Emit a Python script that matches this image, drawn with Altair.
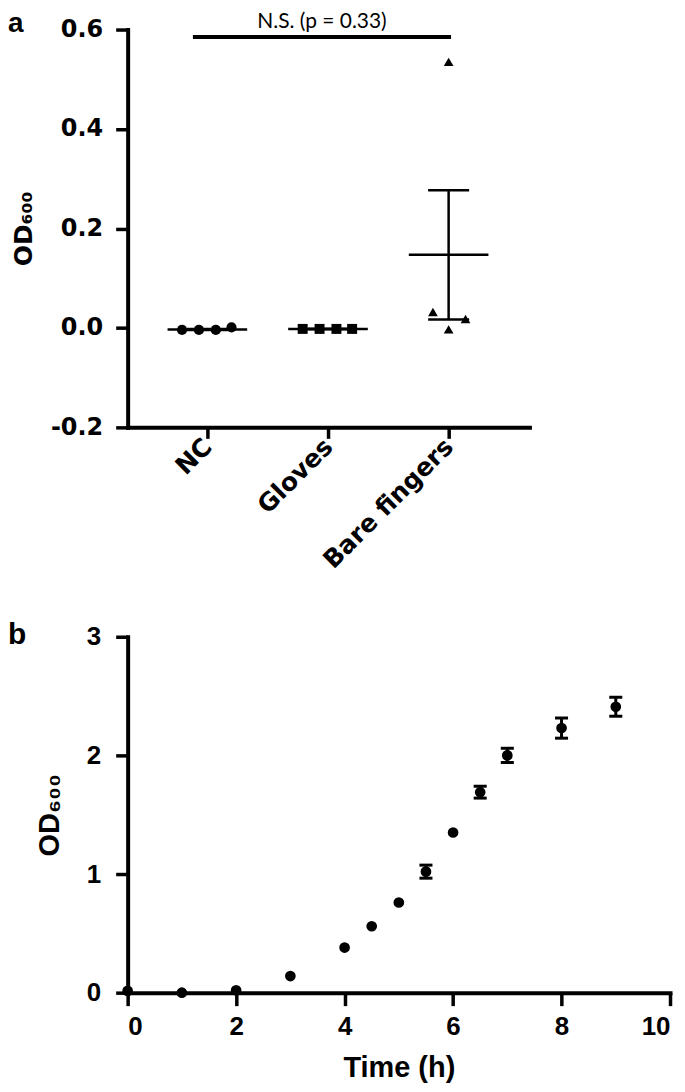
import json
import altair as alt
import pandas as pd

# ---------------- Panel a data ----------------
groups = ["NC", "Gloves", "Bare fingers"]
group_index = [1, 2, 3]
nc_values = [-0.004, -0.004, -0.004, 0.001]
gloves_values = [-0.002, -0.002, -0.002, -0.002]
bare_values = [0.032, -0.003, 0.018, 0.535]
# horizontal scatter of the replicate symbols (in category units)
nc_spread = [-0.21, -0.07, 0.07, 0.20]
gloves_spread = [-0.21, -0.07, 0.07, 0.20]
bare_spread = [-0.13, 0.00, 0.14, 0.00]
group_means = [-0.003, -0.002, 0.147]
group_sems = [0.001, 0.0005, 0.130]
sig_from_to = [0.88, 3.02]
sig_level = 0.585
sig_label = "N.S. (p = 0.33)"

# ---------------- Panel b data ----------------
time_h = [0, 1, 2, 3, 4, 4.5, 5, 5.5, 6, 6.5, 7, 8, 9]
od600 = [0.015, 0.0, 0.02, 0.14, 0.38, 0.56, 0.76, 1.02, 1.35, 1.69, 2.00, 2.23, 2.41]
od600_sd = [0.005, 0.005, 0.005, 0.01, 0.01, 0.015, 0.015, 0.055, 0.02, 0.05, 0.06, 0.085, 0.08]
x_ticks_b = [0, 2, 4, 6, 8, 10]
y_ticks_b = [0, 1, 2, 3]
y_ticks_a = [-0.2, 0.0, 0.2, 0.4, 0.6]

# ---------------- tables ----------------
rows = []
for g, gi, vals, spread in [
    (groups[0], group_index[0], nc_values, nc_spread),
    (groups[1], group_index[1], gloves_values, gloves_spread),
    (groups[2], group_index[2], bare_values, bare_spread),
]:
    for v, s in zip(vals, spread):
        rows.append({"group": g, "xpos": gi + s, "value": v})
pts_a = pd.DataFrame(rows)
summ_a = pd.DataFrame({"group": groups, "pos": group_index,
                       "mean": group_means, "sem": group_sems})
sig_df = pd.DataFrame({"x1": [sig_from_to[0]], "x2": [sig_from_to[1]],
                       "y": [sig_level], "label": [sig_label]})
df_b = pd.DataFrame({"t": time_h, "od": od600, "sd": od600_sd})

FA = "DejaVu Sans"
FB = "Liberation Sans"

xdom_a = [0.339, 3.67]
label_expr_x = json.dumps(groups) + "[datum.value - 1]"
x_a = alt.X("xpos:Q", scale=alt.Scale(domain=xdom_a, nice=False, zero=False),
            axis=alt.Axis(values=group_index, labelExpr=label_expr_x, title=None,
                          labelAngle=-45, labelAlign="right", labelBaseline="middle",
                          labelOverlap=False,
                          labelFont=FA, labelFontWeight="bold", labelFontSize=25,
                          labelColor="black", labelPadding=4,
                          domainColor="black", domainWidth=4, domainCap="square",
                          tickColor="black", tickWidth=3.5, tickSize=11, grid=False))
y_a = alt.Y("value:Q", scale=alt.Scale(domain=[-0.2, 0.6], nice=False, zero=False),
            axis=alt.Axis(values=y_ticks_a, title="OD₆₀₀",
                          labelExpr="datum.value < 0 ? '-' + format(-datum.value, '.1f') : format(datum.value, '.1f')",
                          labelFont=FA, labelFontWeight="bold", labelFontSize=24,
                          labelColor="black", labelPadding=13,
                          titleFont=FA, titleFontWeight="bold", titleFontSize=25,
                          titleColor="black", titlePadding=14,
                          domainColor="black", domainWidth=4, domainCap="square",
                          tickColor="black", tickWidth=3.5, tickSize=12, grid=False))

base_sum = alt.Chart(summ_a)

points_a = alt.Chart(pts_a).mark_point(filled=True, opacity=1, color="black").encode(
    x=x_a, y=y_a,
    shape=alt.Shape("group:N", scale=alt.Scale(domain=groups, range=["circle", "square", "triangle-up"]),
                    legend=None),
    size=alt.Size("group:N", scale=alt.Scale(domain=groups, range=[105, 95, 130]), legend=None),
)
mean_lines = base_sum.transform_calculate(
    lo="datum.pos - 0.33", hi="datum.pos + 0.33"
).mark_rule(color="black", strokeWidth=2.5).encode(
    x="lo:Q", x2="hi:Q", y="mean:Q")
err_v = base_sum.transform_calculate(
    ylo="datum.mean - datum.sem", yhi="datum.mean + datum.sem"
).mark_rule(color="black", strokeWidth=2.5).encode(
    x="pos:Q", y="ylo:Q", y2="yhi:Q")
cap_hi = base_sum.transform_calculate(
    lo="datum.pos - 0.17", hi="datum.pos + 0.17", yv="datum.mean + datum.sem"
).mark_rule(color="black", strokeWidth=2.5).encode(x="lo:Q", x2="hi:Q", y="yv:Q")
cap_lo = base_sum.transform_calculate(
    lo="datum.pos - 0.17", hi="datum.pos + 0.17", yv="datum.mean - datum.sem"
).mark_rule(color="black", strokeWidth=2.5).encode(x="lo:Q", x2="hi:Q", y="yv:Q")
sig_bar = alt.Chart(sig_df).mark_rule(color="black", strokeWidth=4).encode(
    x="x1:Q", x2="x2:Q", y="y:Q")
sig_text = alt.Chart(sig_df).transform_calculate(
    xm="(datum.x1 + datum.x2) / 2"
).mark_text(font="Lato", fontSize=21, color="black", baseline="alphabetic", dy=-9).encode(
    x="xm:Q", y="y:Q", text="label:N")
letter_a = alt.Chart(sig_df).mark_text(text="a", font=FB, fontWeight="bold", fontSize=28,
                                       color="black", align="left", baseline="alphabetic").encode(
    x=alt.value(-120), y=alt.value(2))

panel_a = alt.layer(mean_lines, err_v, cap_hi, cap_lo, sig_bar, sig_text, points_a, letter_a).properties(
    width=403, height=399)

# ---------------- Panel b ----------------
x_b = alt.X("t:Q", scale=alt.Scale(domain=[0, 10], nice=False),
            axis=alt.Axis(values=x_ticks_b, title="Time (h)", format="d",
                          labelFont=FB, labelFontWeight="bold", labelFontSize=26,
                          labelColor="black", labelPadding=8,
                          titleFont=FB, titleFontWeight="bold", titleFontSize=29,
                          titleColor="black", titlePadding=14,
                          domainColor="black", domainWidth=4, domainCap="square",
                          tickColor="black", tickWidth=3.5, tickSize=13, grid=False))
y_b = alt.Y("od:Q", scale=alt.Scale(domain=[0, 3], nice=False),
            axis=alt.Axis(values=y_ticks_b, title="OD₆₀₀", format="d",
                          labelFont=FB, labelFontWeight="bold", labelFontSize=26,
                          labelColor="black", labelPadding=15,
                          titleFont=FB, titleFontWeight="bold", titleFontSize=29,
                          titleColor="black", titlePadding=22,
                          domainColor="black", domainWidth=4, domainCap="square",
                          tickColor="black", tickWidth=3.5, tickSize=12, grid=False))

base_b = alt.Chart(df_b)
pts_b = base_b.mark_circle(color="black", opacity=1, size=115).encode(x=x_b, y=y_b)
bars_b = base_b.transform_filter("datum.sd > 0.04").transform_calculate(
    lo="datum.od - datum.sd", hi="datum.od + datum.sd")
err_b = bars_b.mark_rule(color="black", strokeWidth=3).encode(x="t:Q", y="lo:Q", y2="hi:Q")
caps_b_hi = bars_b.transform_calculate(a="datum.t - 0.12", b="datum.t + 0.12").mark_rule(
    color="black", strokeWidth=3).encode(x="a:Q", x2="b:Q", y="hi:Q")
caps_b_lo = bars_b.transform_calculate(a="datum.t - 0.12", b="datum.t + 0.12").mark_rule(
    color="black", strokeWidth=3).encode(x="a:Q", x2="b:Q", y="lo:Q")
letter_b = alt.Chart(sig_df).mark_text(text="b", font=FB, fontWeight="bold", fontSize=30,
                                       color="black", align="left", baseline="alphabetic").encode(
    x=alt.value(-120), y=alt.value(7))

panel_b = alt.layer(err_b, caps_b_hi, caps_b_lo, pts_b, letter_b).properties(width=544, height=357)

chart = alt.vconcat(panel_a, panel_b, spacing=46).properties(
    padding={"left": 0, "top": 0, "right": 5, "bottom": 5}
).configure(background="white").configure_view(stroke="transparent", strokeWidth=0)

chart.save("out.html", embed_options={"renderer": "svg", "actions": False})
